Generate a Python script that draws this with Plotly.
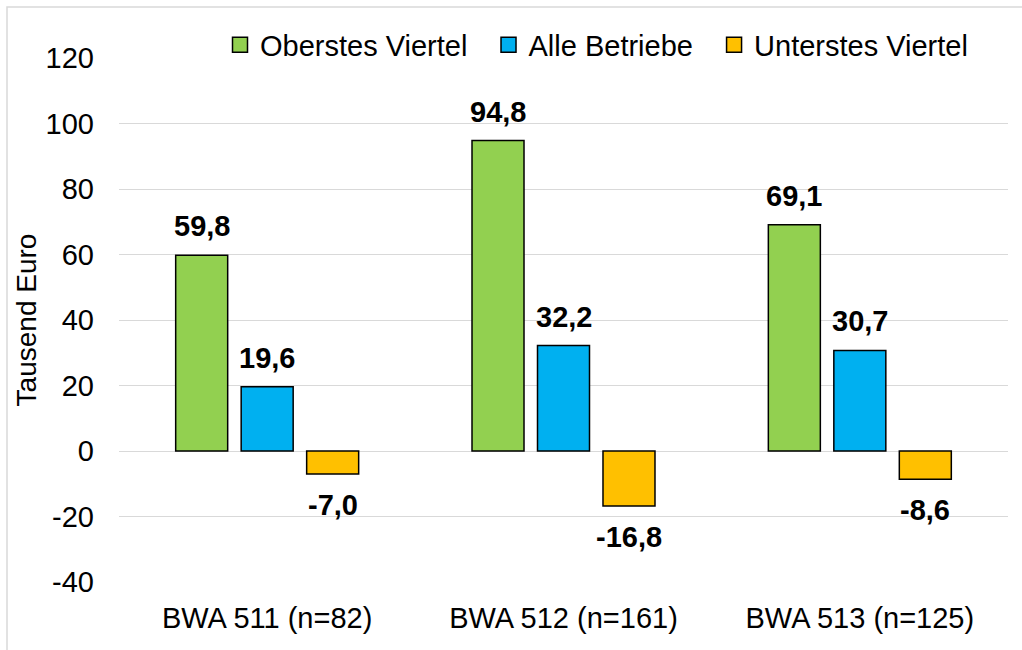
import plotly.graph_objects as go

categories = ["BWA 511 (n=82)", "BWA 512 (n=161)", "BWA 513 (n=125)"]
series_names = ["Oberstes Viertel", "Alle Betriebe", "Unterstes Viertel"]
oberstes = [59.8, 94.8, 69.1]
alle = [19.6, 32.2, 30.7]
unterstes = [-7.0, -16.8, -8.6]
y_ticks = [-40, -20, 0, 20, 40, 60, 80, 100, 120]
y_ticktext = ["-40", "-20", "0", "20", "40", "60", "80", "100", "120"]

colors = ["#92D050", "#00B0F0", "#FFC000"]
series = [oberstes, alle, unterstes]

W, H = 1022, 650
ML, MR, MT, MB = 119, 14, 58, 68
BARGAP = 0.337
GROUPGAP = 0.206
FONT = "Liberation Sans, Arial, sans-serif"
FS = 29
NB = "\u00a0"
legend_pad = [NB * 2, NB * 2, ""]

fig = go.Figure()
for name, vals, col, pad in zip(series_names, series, colors, legend_pad):
    fig.add_trace(go.Bar(
        x=categories, y=vals, name=name, showlegend=False,
        marker=dict(color=col, line=dict(color="black", width=1.5)),
    ))
    # legend entry
    fig.add_trace(go.Scatter(
        x=[None], y=[None], mode="markers", name=name + pad,
        marker=dict(symbol="square", size=15, color=col,
                    line=dict(color="black", width=1.5)),
    ))

plot_w = W - ML - MR
plot_h = H - MT - MB
cat_w = plot_w / len(categories)
slot = cat_w * (1 - BARGAP) / len(series)

def fmt(v):
    return f"{v:.1f}".replace(".", ",")

annotations = []
for i, vals in enumerate(series):
    shift = (i - 1) * slot
    for c, v in zip(categories, vals):
        annotations.append(dict(
            x=c, y=v, xref="x", yref="y", text=f"<b>{fmt(v)}</b>",
            showarrow=False, xshift=shift,
            yanchor="bottom" if v >= 0 else "top",
            yshift=11 if v >= 0 else -13,
            font=dict(family=FONT, size=29, color="black"),
        ))

fig.update_layout(
    width=W, height=H,
    margin=dict(l=ML, r=MR, t=MT, b=MB, pad=0),
    paper_bgcolor="white", plot_bgcolor="white",
    barmode="group", bargap=BARGAP, bargroupgap=GROUPGAP,
    font=dict(family=FONT, size=FS, color="black"),
    annotations=annotations,
    legend=dict(
        orientation="h", x=(220 - ML) / plot_w, xanchor="left",
        y=1 + 13 / plot_h, yanchor="middle",
        font=dict(family=FONT, size=FS, color="black"),
        bgcolor="rgba(0,0,0,0)", borderwidth=0,
    ),
    shapes=[dict(
        type="rect", xref="paper", yref="paper",
        x0=(7 - ML) / plot_w, x1=1 + (MR + 20) / plot_w,
        y0=-(MB + 20) / plot_h, y1=1 + (MT - 7) / plot_h,
        line=dict(color="#D9D9D9", width=1.5), fillcolor="rgba(0,0,0,0)",
        layer="below",
    )],
)
fig.update_xaxes(
    showgrid=False, showline=False, ticks="", ticklabelstandoff=16,
    tickfont=dict(family=FONT, size=FS, color="black"),
)
fig.update_yaxes(
    range=[-40, 120], tickvals=y_ticks, ticktext=y_ticktext,
    showgrid=True, gridcolor="#D9D9D9", gridwidth=1.3,
    zeroline=True, zerolinecolor="#D9D9D9", zerolinewidth=1.3,
    showline=False, ticks="", ticklabelstandoff=24,
    tickfont=dict(family=FONT, size=FS, color="black"),
    title=dict(text="Tausend Euro", standoff=0,
               font=dict(family=FONT, size=28, color="black")),
)

fig.write_html(
    "out.html",
    config={"displayModeBar": False},
    post_script="document.body.style.margin='0';document.body.style.overflow='hidden';",
)
